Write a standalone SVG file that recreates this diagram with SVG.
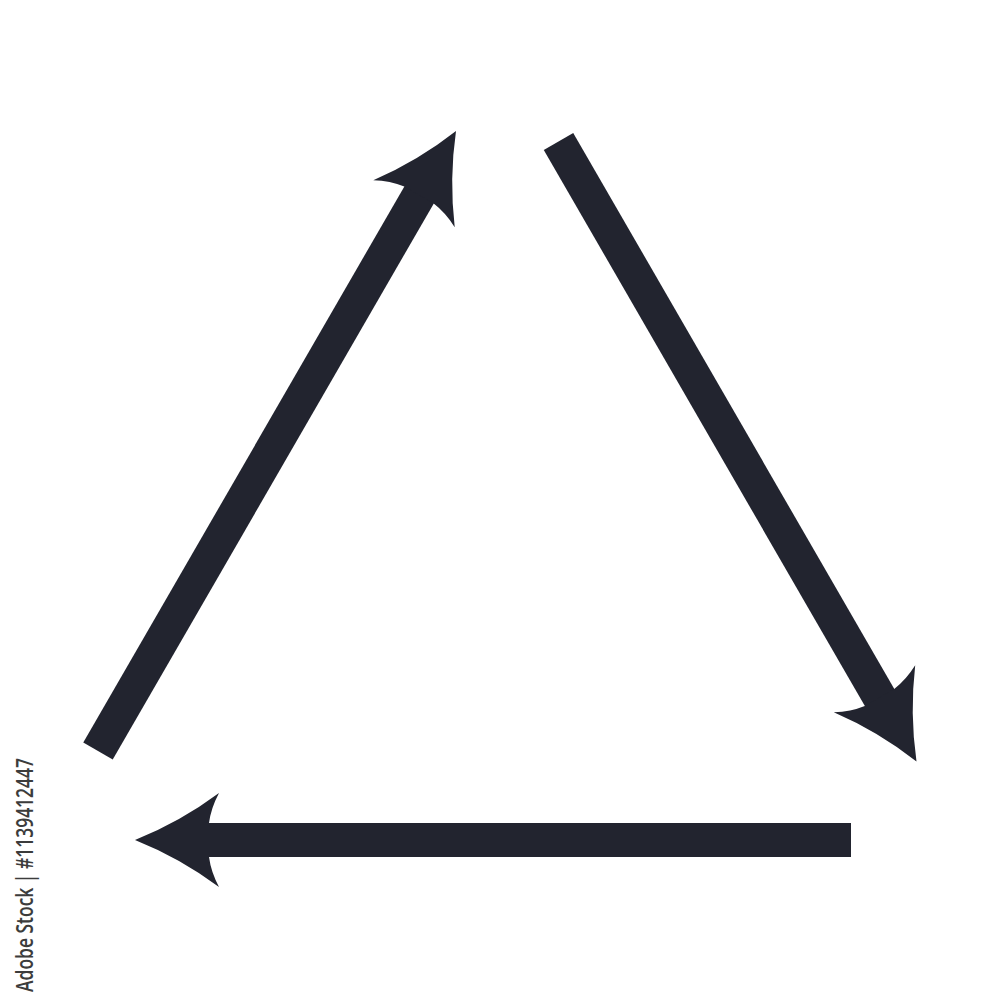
<svg xmlns="http://www.w3.org/2000/svg" xmlns:xlink="http://www.w3.org/1999/xlink" width="1000" height="1000" viewBox="0 0 1000 1000">
  <style>
    .arrow { fill: #22242f; }
    .credit { font-family: "Open Sans", "Liberation Sans", sans-serif; font-size: 24px; font-weight: 600; fill: #3c3c3c; }
  </style>
  <defs>
    <g id="arrow-shape">
      <rect x="-716" y="-17" width="650" height="34"/>
      <path d="M0,0 Q-45,-18 -84,-47 Q-76,-32 -74,-17 L-74,17 Q-76,32 -84,47 Q-45,18 0,0 Z"/>
    </g>
  </defs>
  <rect width="1000" height="1000" fill="#ffffff"/>
  <g id="connectors" class="arrow">
    <use id="arrow-left" xlink:href="#arrow-shape" href="#arrow-shape" transform="translate(456,131) rotate(-60)"/>
    <use id="arrow-right" xlink:href="#arrow-shape" href="#arrow-shape" transform="translate(916.5,761.5) rotate(60)"/>
    <use id="arrow-bottom" xlink:href="#arrow-shape" href="#arrow-shape" transform="translate(135,840) rotate(180)"/>
  </g>
  <text class="credit" transform="translate(33,992) rotate(-90)" textLength="234" lengthAdjust="spacingAndGlyphs">Adobe Stock | #1139412447</text>
</svg>
